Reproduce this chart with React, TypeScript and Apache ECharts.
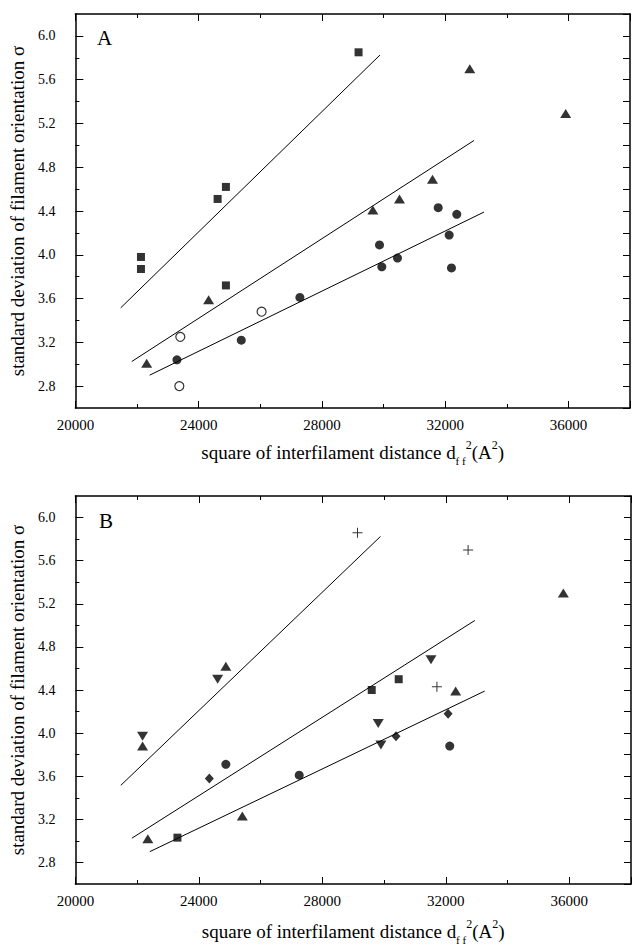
import React, { useEffect, useRef } from "react";
import * as echarts from "echarts";

// ---------- data ----------
const yMajorTicks = [2.8, 3.2, 3.6, 4.0, 4.4, 4.8, 5.2, 5.6, 6.0];
const yMinorTicks = [3.0, 3.4, 3.8, 4.2, 4.6, 5.0, 5.4, 5.8];

// Panel A
const aSquares = [[29190, 5.85], [24885, 4.62], [24616, 4.51], [22128, 3.98], [22128, 3.87], [24885, 3.72]];
const aTriangles = [[24324, 3.59], [22313, 3.01], [32800, 5.70], [35913, 5.29], [31590, 4.69], [30519, 4.51], [29654, 4.41]];
const aCircles = [[31775, 4.43], [32378, 4.37], [29870, 4.09], [29945, 3.89], [30454, 3.97], [32131, 4.18], [32206, 3.88], [27286, 3.61], [25384, 3.22], [23296, 3.04]];
const aOpenCircles = [[23405, 3.25], [26043, 3.48], [23373, 2.80]];

// Panel B
const bPlus = [[29139, 5.86], [32723, 5.70], [31712, 4.43]];
const bTrianglesUp = [[35808, 5.30], [32320, 4.39], [24874, 4.62], [22176, 3.88], [22346, 3.02], [25408, 3.23]];
const bTrianglesDown = [[24608, 4.50], [22176, 3.97], [31520, 4.68], [29811, 4.09], [29898, 3.89]];
const bSquares = [[29600, 4.40], [30474, 4.50], [23306, 3.03]];
const bDiamonds = [[24339, 3.58], [30387, 3.97], [32074, 4.18]];
const bCircles = [[24874, 3.71], [27251, 3.61], [32128, 3.88]];

// fitted lines (end points)
const line1 = [[21470, 3.515], [29885, 5.825]];
const line2 = [[21830, 3.025], [32940, 5.045]];
const line3 = [[22410, 2.90], [33260, 4.39]];

const FONT = "Liberation Serif";
const PLUS_PATH = "path://M4.5,0 L5.5,0 L5.5,4.5 L10,4.5 L10,5.5 L5.5,5.5 L5.5,10 L4.5,10 L4.5,5.5 L0,5.5 L0,4.5 L4.5,4.5 Z";

const grids = [
  { left: 72, top: 14, width: 558, height: 394 },
  { left: 73, top: 496, width: 558, height: 395 },
];
const xNameGaps = [31, 34];

function App() {
  const ref = useRef<HTMLDivElement>(null);
  useEffect(() => {
    if (!ref.current) return;
    const chart = echarts.init(ref.current, null, { renderer: "svg" });

    const xAxes: any[] = [];
    const yAxes: any[] = [];
    grids.forEach((_, gi) => {
      const base = {
        type: "value",
        gridIndex: gi,
        min: 20000,
        max: 38000,
        interval: 4000,
        splitLine: { show: false },
        axisLine: { show: true, onZero: false, lineStyle: { color: "#000", width: 1.5 } },
        axisTick: { show: true, inside: true, length: 7, lineStyle: { color: "#000", width: 1 } },
        minorTick: { show: true, splitNumber: 2, length: 4, lineStyle: { color: "#000", width: 1 } },
        minorSplitLine: { show: false },
      };
      xAxes.push({
        ...base,
        position: "bottom",
        axisLabel: {
          show: true,
          margin: 9,
          color: "#000",
          fontSize: 15,
          fontFamily: FONT,
          showMaxLabel: false,
          formatter: (v: number) => String(Math.round(v)),
        },
        name: "square of interfilament distance d{sub|f f}{sup|2}(A{sup|2})",
        nameLocation: "middle",
        nameGap: xNameGaps[gi],
        nameTextStyle: {
          color: "#000",
          fontSize: 19,
          fontFamily: FONT,
          lineHeight: 27,
          rich: {
            sub: { fontSize: 11, fontFamily: FONT, color: "#000", verticalAlign: "bottom", lineHeight: 11 },
            sup: { fontSize: 12, fontFamily: FONT, color: "#000", verticalAlign: "top", lineHeight: 12 },
          },
        },
      });
      xAxes.push({ ...base, position: "top", axisLabel: { show: false } });

      const yBase = {
        type: "value",
        gridIndex: gi,
        min: 2.6,
        max: 6.2,
        interval: 0.2,
        splitLine: { show: false },
      };
      yAxes.push({
        ...yBase,
        position: "left",
        axisLine: { show: true, onZero: false, lineStyle: { color: "#000", width: 1.5 } },
        axisTick: { show: true, inside: true, length: 8, customValues: yMajorTicks, lineStyle: { color: "#000", width: 1 } },
        axisLabel: {
          show: true,
          margin: 20,
          color: "#000",
          fontSize: 14,
          fontFamily: FONT,
          customValues: yMajorTicks,
          formatter: (v: number) => v.toFixed(1),
        },
        name: "standard deviation of filament orientation σ",
        nameLocation: "middle",
        nameGap: 47,
        nameRotate: 90,
        nameTextStyle: { color: "#000", fontSize: 19, fontFamily: FONT },
      });
      yAxes.push({
        ...yBase,
        position: "left",
        axisLine: { show: false },
        axisTick: { show: true, inside: true, length: 4, customValues: yMinorTicks, lineStyle: { color: "#000", width: 1 } },
        axisLabel: { show: false },
      });
      yAxes.push({
        ...yBase,
        position: "right",
        axisLine: { show: true, onZero: false, lineStyle: { color: "#000", width: 1.5 } },
        axisTick: { show: true, inside: true, length: 7, lineStyle: { color: "#000", width: 1 } },
        axisLabel: { show: false },
      });
    });

    const sc = (gi: number, data: number[][], symbol: string, size: any, extra: any = {}) => ({
      type: "scatter",
      xAxisIndex: gi * 2,
      yAxisIndex: gi * 3,
      data,
      symbol,
      symbolSize: size,
      itemStyle: { color: "#000" },
      z: 5,
      ...extra,
    });
    const ln = (gi: number, data: number[][]) => ({
      type: "line",
      xAxisIndex: gi * 2,
      yAxisIndex: gi * 3,
      data,
      showSymbol: false,
      symbol: "none",
      lineStyle: { color: "#000", width: 1 },
      z: 3,
    });

    const series: any[] = [
      // panel A
      sc(0, aSquares, "rect", 8),
      sc(0, aTriangles, "triangle", [11, 9]),
      sc(0, aCircles, "circle", 9),
      sc(0, aOpenCircles, "circle", 9, { itemStyle: { color: "#fff", borderColor: "#000", borderWidth: 1.2 } }),
      ln(0, line1),
      ln(0, line2),
      ln(0, line3),
      // panel B
      sc(1, bPlus, PLUS_PATH, 10),
      sc(1, bTrianglesUp, "triangle", [11, 9]),
      sc(1, bTrianglesDown, "triangle", [11, 9], { symbolRotate: 180 }),
      sc(1, bSquares, "rect", 8),
      sc(1, bDiamonds, "diamond", [9, 10]),
      sc(1, bCircles, "circle", 9),
      ln(1, line1),
      ln(1, line2),
      ln(1, line3),
    ];

    chart.setOption({
      animation: false,
      backgroundColor: "#fff",
      textStyle: { fontFamily: FONT, color: "#000" },
      grid: grids.map((g) => ({ ...g, containLabel: false })),
      xAxis: xAxes,
      yAxis: yAxes,
      title: [
        { text: "A", left: 97, top: 27, padding: 0, textStyle: { fontSize: 21, fontWeight: "normal", color: "#000", fontFamily: FONT } },
        { text: "B", left: 99, top: 510, padding: 0, textStyle: { fontSize: 21, fontWeight: "normal", color: "#000", fontFamily: FONT } },
      ],
      series,
    });
    return () => chart.dispose();
  }, []);
  return (
    <div
      ref={ref}
      style={{ position: "absolute", left: 0, top: 0, width: 632, height: 946, background: "#fff" }}
    />
  );
}

export default App;
